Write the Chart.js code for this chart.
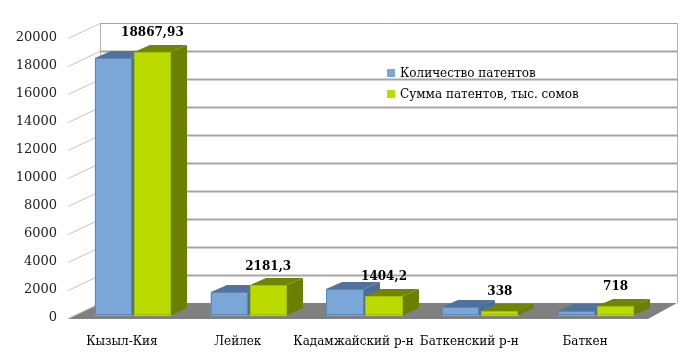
<!DOCTYPE html>
<html><head><meta charset="utf-8">
<script src="https://cdn.jsdelivr.net/npm/chart.js@4/dist/chart.umd.min.js"></script>
<style>
html,body{margin:0;padding:0;background:#fff;}
#wrap{position:relative;width:693px;height:362px;}
#legend{position:absolute;left:387px;top:62px;font:12px "DejaVu Serif";color:#000;}
.li{display:flex;align-items:center;height:21px;white-space:nowrap;}
.sw{width:8px;height:8px;margin-right:5px;}
</style></head><body>
<div id="wrap"><canvas id="c" width="693" height="362"></canvas>
<div id="legend"></div></div>
<script>
const categories = ['Кызыл-Кия', 'Лейлек', 'Кадамжайский р-н', 'Баткенский р-н', 'Баткен'];
const patentCount = [18440, 1690, 1950, 650, 330];
const patentSum = [18867.93, 2181.3, 1404.2, 338, 718];
const sumLabels = ['18867,93', '2181,3', '1404,2', '338', '718'];
const seriesNames = ['Количество патентов', 'Сумма патентов, тыс. сомов'];
const yMax = 20000, yStep = 2000;

const faceColors = [
  {front:'#7aa7d8', side:'#4a6e96', top:'#4f739c', border:'#5b86b8'},
  {front:'#bada00', side:'#6b7f00', top:'#718600', border:'#a3c000'}
];

const lg = document.getElementById('legend');
seriesNames.forEach((n,i)=>{
  const d=document.createElement('div'); d.className='li';
  const s=document.createElement('span'); s.className='sw'; s.style.background=faceColors[i].front;
  d.appendChild(s); d.appendChild(document.createTextNode(n)); lg.appendChild(d);
});

const FRONT = {dx:-7, dy:2}, BACK = {dx:25, dy:-13};

const wallsPlugin = {
  id:'walls',
  beforeDatasetsDraw(chart){
    const ctx=chart.ctx, a=chart.chartArea, ys=chart.scales.y;
    const L=a.left, R=a.right;
    ctx.save();
    const y0=ys.getPixelForValue(0);
    ctx.fillStyle='#808080';
    ctx.beginPath();
    ctx.moveTo(L+FRONT.dx, y0+FRONT.dy+1);
    ctx.lineTo(R-6, y0+FRONT.dy+1);
    ctx.lineTo(R+BACK.dx-2, y0+BACK.dy);
    ctx.lineTo(L+BACK.dx, y0+BACK.dy);
    ctx.closePath(); ctx.fill();
    for(let v=0; v<=yMax; v+=yStep){
      const y=ys.getPixelForValue(v);
      ctx.strokeStyle='#c4c4c4'; ctx.lineWidth=1;
      ctx.beginPath();
      ctx.moveTo(L+FRONT.dx, y+FRONT.dy+0.5);
      ctx.lineTo(L+BACK.dx, y+BACK.dy+0.5);
      ctx.stroke();
      if(v>0){
        ctx.strokeStyle='#a6a6a6'; ctx.lineWidth = (v===yMax)?1:2;
        ctx.beginPath();
        ctx.moveTo(L+BACK.dx, y+BACK.dy+0.5);
        ctx.lineTo(R+BACK.dx-2, y+BACK.dy+0.5);
        ctx.stroke();
      }
    }
    const yt=ys.getPixelForValue(yMax)+BACK.dy, yb=y0+BACK.dy;
    ctx.strokeStyle='#b0b0b0'; ctx.lineWidth=1;
    ctx.beginPath();
    ctx.moveTo(L+BACK.dx+0.5, yt); ctx.lineTo(L+BACK.dx+0.5, yb);
    ctx.moveTo(R+BACK.dx-1.5, yt); ctx.lineTo(R+BACK.dx-1.5, yb);
    ctx.stroke();
    ctx.restore();
  }
};

function drawBar(ctx, x0, x1, yTop, yBase, c){
  const dx=16, dy=7;
  ctx.fillStyle=c.side;
  ctx.beginPath(); ctx.moveTo(x1,yTop); ctx.lineTo(x1+dx,yTop-dy); ctx.lineTo(x1+dx,yBase-dy); ctx.lineTo(x1,yBase); ctx.closePath(); ctx.fill();
  ctx.fillStyle=c.top;
  ctx.beginPath(); ctx.moveTo(x0,yTop); ctx.lineTo(x0+dx,yTop-dy); ctx.lineTo(x1+dx,yTop-dy); ctx.lineTo(x1,yTop); ctx.closePath(); ctx.fill();
  ctx.fillStyle=c.front; ctx.fillRect(x0,yTop,x1-x0,yBase-yTop);
  ctx.strokeStyle=c.border; ctx.lineWidth=1;
  ctx.strokeRect(x0+0.5,yTop+0.5,Math.max(0,x1-x0-1),Math.max(0,yBase-yTop-1));
}

const bars3dPlugin = {
  id:'bars3d',
  afterDatasetsDraw(chart){
    const ctx=chart.ctx;
    ctx.save();
    const metas=[chart.getDatasetMeta(0), chart.getDatasetMeta(1)];
    for(let i=0;i<categories.length;i++){
      metas.forEach((m,di)=>{
        const p=m.data[i].getProps(['x','y','base','width'],true);
        drawBar(ctx, Math.round(p.x-p.width/2), Math.round(p.x+p.width/2), Math.round(p.y), Math.round(p.base)-1, faceColors[di]);
      });
    }
    ctx.fillStyle='#000';
    ctx.font='bold 12px "DejaVu Serif"';
    ctx.textAlign='center'; ctx.textBaseline='middle';
    metas[1].data.forEach((el,i)=>{
      const p=el.getProps(['x','y'],true);
      ctx.fillText(sumLabels[i], p.x, p.y-19);
    });
    ctx.restore();
  }
};

new Chart(document.getElementById('c'), {
  type:'bar',
  data:{
    labels:categories,
    datasets:[
      {label:seriesNames[0], data:patentCount, backgroundColor:faceColors[0].front, categoryPercentage:0.674, barPercentage:0.95},
      {label:seriesNames[1], data:patentSum, backgroundColor:faceColors[1].front, categoryPercentage:0.674, barPercentage:0.95}
    ]
  },
  options:{
    responsive:false, animation:false, devicePixelRatio:1,
    layout:{padding:{left:0,right:39,top:36,bottom:0}},
    plugins:{legend:{display:false}, tooltip:{enabled:false}},
    scales:{
      x:{
        grid:{display:false, drawTicks:false}, border:{display:false},
        ticks:{font:{family:'DejaVu Serif', size:12}, color:'#000', padding:19, labelOffset:-11, maxRotation:0, autoSkip:false},
        afterFit(s){ s.height=46; }
      },
      y:{
        min:0, max:yMax,
        grid:{display:false, drawTicks:false}, border:{display:false},
        ticks:{stepSize:yStep, font:{family:'DejaVu Serif', size:13}, color:'#222', padding:18, labelOffset:2,
               callback:(v)=>String(v)},
        afterFit(s){ s.width=75; }
      }
    }
  },
  plugins:[wallsPlugin, bars3dPlugin]
});
</script>
</body></html>
